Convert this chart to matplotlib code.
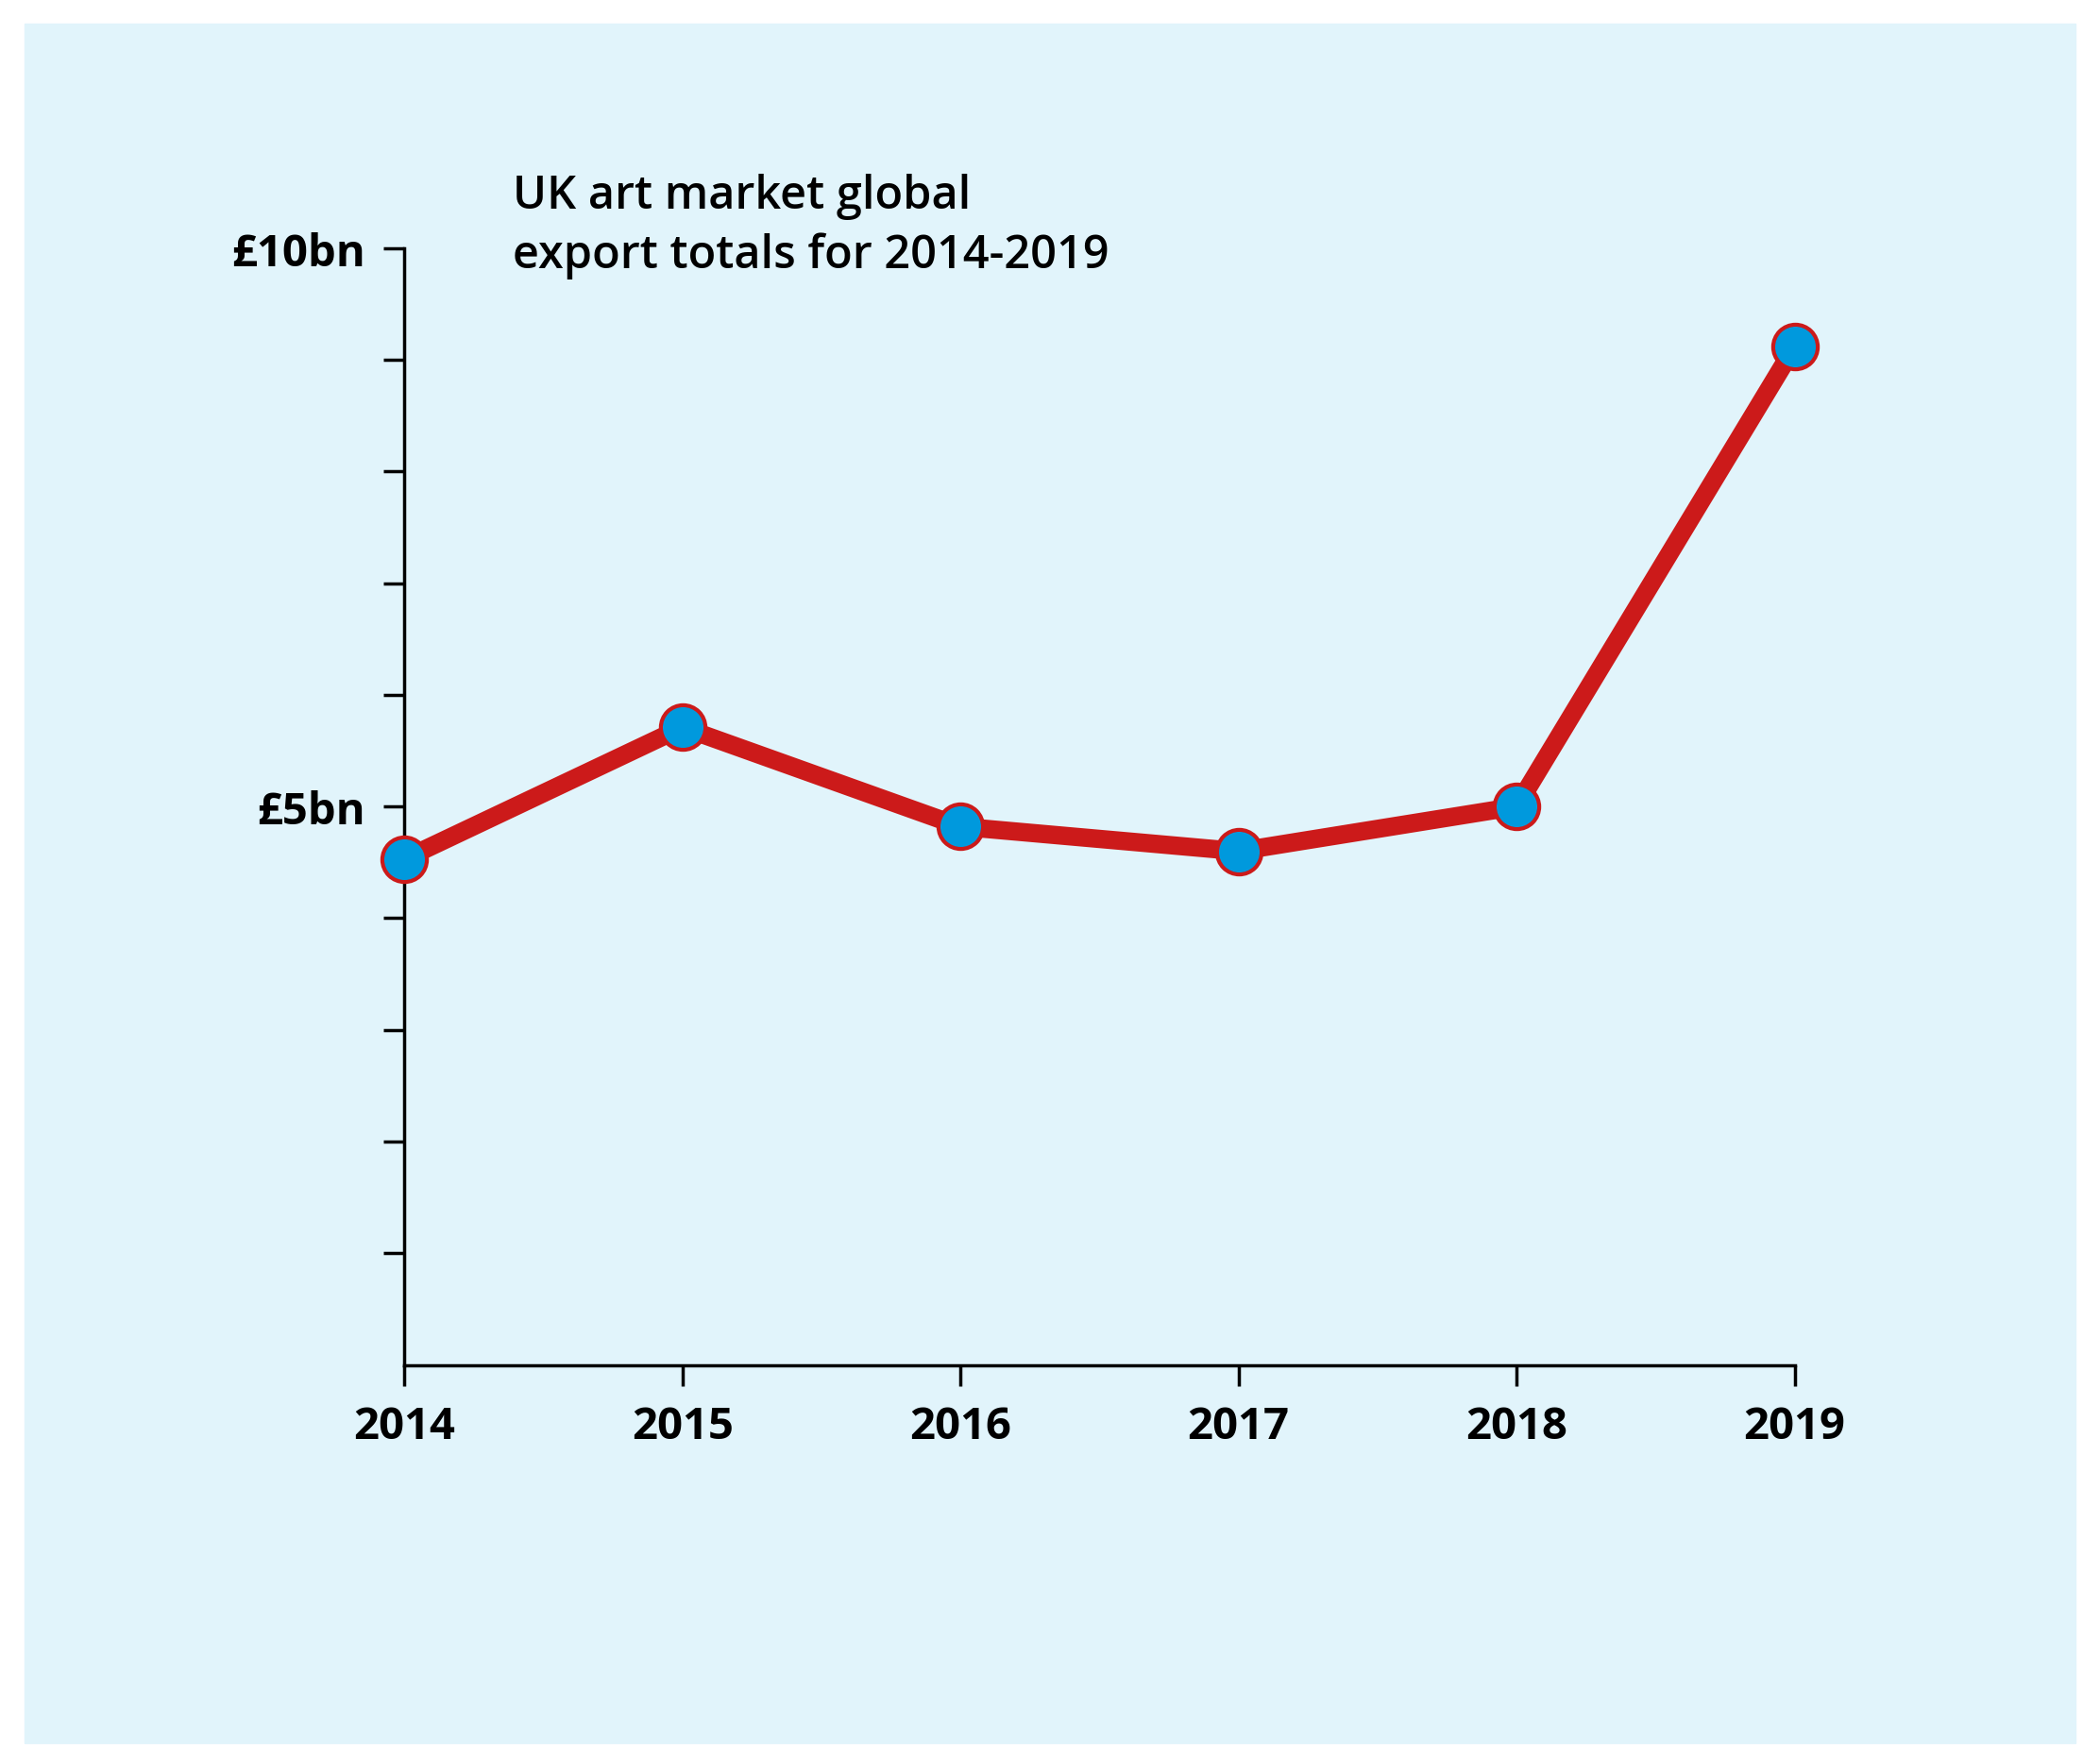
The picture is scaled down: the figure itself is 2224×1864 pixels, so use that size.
import matplotlib.pyplot as plt
from matplotlib.patches import Rectangle

years = [2014, 2015, 2016, 2017, 2018, 2019]
exports_bn = [4.53, 5.71, 4.82, 4.60, 5.00, 9.12]
ytick_labels = {5: "£5bn", 10: "£10bn"}

W, H = 1568, 1315
fig = plt.figure(figsize=(22.24, 18.65), dpi=100, facecolor="white")
fig.patches.append(Rectangle((18 / W, 1 - 1302 / H), (1550 - 18) / W, (1302 - 18) / H,
                             transform=fig.transFigure, color="#e1f4fb", zorder=-5))

ax = fig.add_axes([302 / W, 1 - 1020 / H, (1340 - 302) / W, (1020 - 186) / H])
ax.set_facecolor("none")
ax.plot(years, exports_bn, color="#cc1a1a", lw=14, marker="o", ms=34,
        mfc="#0099dd", mec="#cc1a1a", mew=3, clip_on=False, zorder=3)
ax.set_xlim(2014, 2019)
ax.set_ylim(0, 10)
for s in ["top", "right"]:
    ax.spines[s].set_visible(False)
for s in ["left", "bottom"]:
    ax.spines[s].set_linewidth(2.5)

ax.set_xticks(years)
ax.set_xticklabels([str(y) for y in years], fontsize=34, fontweight="bold", family="Open Sans")
ax.set_yticks(range(1, 11))
ax.set_yticklabels([ytick_labels.get(v, "") for v in range(1, 11)],
                   fontsize=34, fontweight="bold", family="Open Sans")
ax.tick_params(direction="out", length=16, width=2.5, pad=14)

fig.text(383 / W, 1 - 200 / H, "UK art market global\nexport totals for 2014-2019",
         fontsize=35, fontweight="semibold", family="Open Sans",
         va="baseline", linespacing=1.35)

fig.savefig("out.png", dpi=100, facecolor="white")
